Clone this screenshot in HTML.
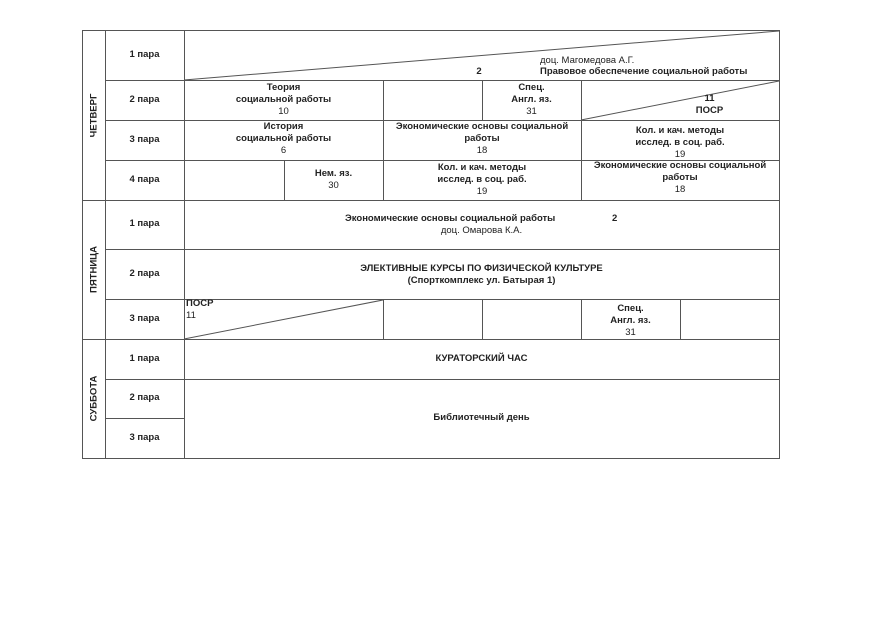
<!DOCTYPE html>
<html><head><meta charset="utf-8"><style>
body{margin:0;background:#fff;width:876px;height:624px;position:relative;overflow:hidden;font-family:"Liberation Sans",Arial,sans-serif;}
.t{position:absolute;font-size:9.5px;font-weight:bold;color:#222;text-align:center;line-height:12px;}
.n{font-weight:normal;}
.v{position:absolute;font-size:9.5px;font-weight:bold;color:#222;transform:rotate(-90deg);white-space:nowrap;}
</style></head><body>
<svg width="876" height="624" style="position:absolute;left:0;top:0" stroke="#555" stroke-width="1" fill="none">
<rect x="82.5" y="30.5" width="697" height="428"/>
<line x1="105.5" y1="30" x2="105.5" y2="458"/>
<line x1="184.5" y1="30" x2="184.5" y2="458"/>
<line x1="105" y1="80.5" x2="779" y2="80.5"/>
<line x1="105" y1="120.5" x2="779" y2="120.5"/>
<line x1="105" y1="160.5" x2="779" y2="160.5"/>
<line x1="82" y1="200.5" x2="779" y2="200.5"/>
<line x1="105" y1="249.5" x2="779" y2="249.5"/>
<line x1="105" y1="299.5" x2="779" y2="299.5"/>
<line x1="82" y1="339.5" x2="779" y2="339.5"/>
<line x1="105" y1="379.5" x2="779" y2="379.5"/>
<line x1="105" y1="418.5" x2="184" y2="418.5"/>
<line x1="383.5" y1="80" x2="383.5" y2="200"/>
<line x1="482.5" y1="80" x2="482.5" y2="120"/>
<line x1="581.5" y1="80" x2="581.5" y2="200"/>
<line x1="284.5" y1="160" x2="284.5" y2="200"/>
<line x1="383.5" y1="299" x2="383.5" y2="339"/>
<line x1="482.5" y1="299" x2="482.5" y2="339"/>
<line x1="581.5" y1="299" x2="581.5" y2="339"/>
<line x1="680.5" y1="299" x2="680.5" y2="339"/>
<line x1="184" y1="80" x2="779" y2="31"/>
<line x1="581" y1="120" x2="779" y2="81"/>
<line x1="184" y1="339" x2="383" y2="300"/>
</svg>
<div class="v" style="left:64px;top:110px;width:60px;text-align:center">ЧЕТВЕРГ</div>
<div class="v" style="left:64px;top:264px;width:60px;text-align:center">ПЯТНИЦА</div>
<div class="v" style="left:64px;top:393px;width:60px;text-align:center">СУББОТА</div>
<div class="t" style="left:105px;width:79px;top:49px">1 пара</div>
<div class="t" style="left:105px;width:79px;top:94px">2 пара</div>
<div class="t" style="left:105px;width:79px;top:134px">3 пара</div>
<div class="t" style="left:105px;width:79px;top:174px">4 пара</div>
<div class="t" style="left:105px;width:79px;top:218px">1 пара</div>
<div class="t" style="left:105px;width:79px;top:268px">2 пара</div>
<div class="t" style="left:105px;width:79px;top:313px">3 пара</div>
<div class="t" style="left:105px;width:79px;top:353px">1 пара</div>
<div class="t" style="left:105px;width:79px;top:392px">2 пара</div>
<div class="t" style="left:105px;width:79px;top:432px">3 пара</div>

<div class="t n" style="left:540px;top:55px;width:140px;text-align:left">доц. Магомедова А.Г.</div>
<div class="t" style="left:474px;top:66px;width:10px">2</div>
<div class="t" style="left:540px;top:66px;width:240px;text-align:left;white-space:nowrap">Правовое обеспечение социальной работы</div>

<div class="t" style="left:184px;width:199px;top:82px">Теория<br>социальной работы<br><span class="n">10</span></div>
<div class="t" style="left:482px;width:99px;top:82px">Спец.<br>Англ. яз.<br><span class="n">31</span></div>
<div class="t" style="left:660px;width:99px;top:93px">11<br>ПОСР</div>

<div class="t" style="left:184px;width:199px;top:121px">История<br>социальной работы<br><span class="n">6</span></div>
<div class="t" style="left:383px;width:198px;top:121px">Экономические основы социальной<br>работы<br><span class="n">18</span></div>
<div class="t" style="left:581px;width:198px;top:125px">Кол. и кач. методы<br>исслед. в соц. раб.<br><span class="n">19</span></div>

<div class="t" style="left:284px;width:99px;top:168px">Нем. яз.<br><span class="n">30</span></div>
<div class="t" style="left:383px;width:198px;top:162px">Кол. и кач. методы<br>исслед. в соц. раб.<br><span class="n">19</span></div>
<div class="t" style="left:581px;width:198px;top:160px">Экономические основы социальной<br>работы<br><span class="n">18</span></div>

<div class="t" style="left:345px;top:213px;text-align:left;white-space:nowrap">Экономические основы социальной работы</div>
<div class="t" style="left:612px;top:213px">2</div>
<div class="t n" style="left:184px;width:595px;top:225px">доц. Омарова К.А.</div>

<div class="t" style="left:184px;width:595px;top:263px">ЭЛЕКТИВНЫЕ КУРСЫ ПО ФИЗИЧЕСКОЙ КУЛЬТУРЕ<br>(Спорткомплекс ул. Батырая 1)</div>

<div class="t" style="left:186px;top:298px;text-align:left">ПОСР<br><span class="n">11</span></div>
<div class="t" style="left:581px;width:99px;top:303px">Спец.<br>Англ. яз.<br><span class="n">31</span></div>

<div class="t" style="left:184px;width:595px;top:353px">КУРАТОРСКИЙ ЧАС</div>
<div class="t" style="left:184px;width:595px;top:412px">Библиотечный день</div>
</body></html>
